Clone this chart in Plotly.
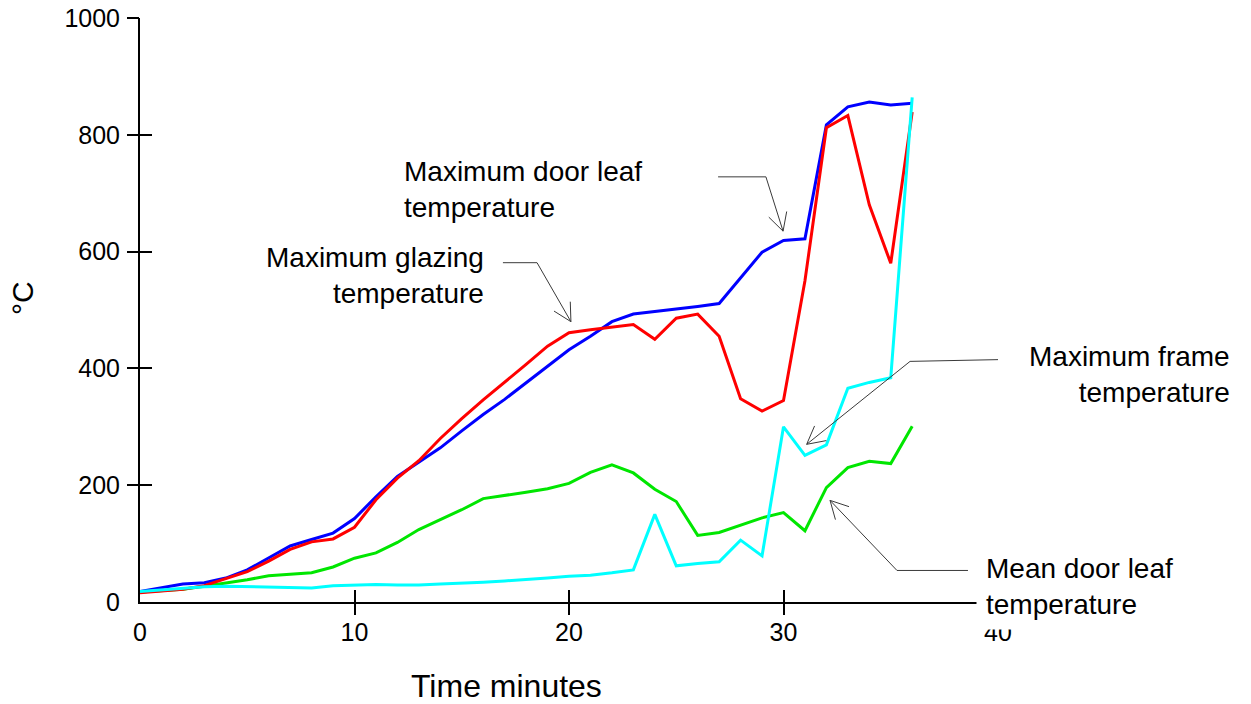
import numpy as np
import plotly.graph_objects as go

# Fire test of a glazed door: temperatures (°C) against time (minutes)
minutes = list(range(0, 37))

max_door_leaf = [18, 24, 31, 33, 41, 55, 75, 96, 107, 118, 143, 180, 215, 240, 264, 293,
                 321, 347, 375, 404, 432, 455, 480, 493, 497, 501, 506, 511, 556, 599,
                 619, 622, 817, 848, 856, 851, 854]

max_glazing = [16, 19, 22, 28, 40, 52, 70, 90, 103, 108, 128, 175, 212, 242, 280, 314,
               346, 376, 407, 438, 461, 466, 470, 475, 450, 486, 493, 455, 348, 327,
               345, 550, 812, 833, 680, 580, 839]

mean_door_leaf = [17, 20, 22, 27, 32, 38, 45, 48, 50, 60, 75, 84, 102, 124, 141, 158,
                  177, 182, 188, 194, 203, 222, 235, 221, 193, 172, 114, 119, 131, 144,
                  153, 122, 196, 230, 241, 237, 301]

max_frame = [18, 21, 24, 26, 27, 26, 25, 24, 24, 28, 29, 30, 29, 29, 31, 32,
             34, 36, 38, 41, 44, 46, 50, 55, 150, 62, 66, 69, 106, 79,
             300, 251, 269, 366, 376, 384, 864]

x_ticks = [0, 10, 20, 30, 40]
y_ticks = [0, 200, 400, 600, 800, 1000]

FONT = "Arial, Liberation Sans, sans-serif"
W, H = 1251, 704
M = dict(l=140, r=253, t=18, b=102)
PW = W - M["l"] - M["r"]
PH = H - M["t"] - M["b"]
X_RANGE = [0, 40]
Y_RANGE = [0, 1000]
SX = PW / (X_RANGE[1] - X_RANGE[0])
SY = PH / (Y_RANGE[1] - Y_RANGE[0])

fig = go.Figure()

series = [
    (max_door_leaf, "#0000FF", "Maximum door leaf temperature"),
    (mean_door_leaf, "#00E600", "Mean door leaf temperature"),
    (max_glazing, "#FF0000", "Maximum glazing temperature"),
    (max_frame, "#00FFFF", "Maximum frame temperature"),
]
for ys, col, name in series:
    fig.add_trace(go.Scatter(x=minutes, y=ys, mode="lines", name=name,
                             line=dict(color=col, width=3), showlegend=False))

# empty traces so the overlay tick axes are drawn
for xa, ya in [("x2", "y"), ("x3", "y"), ("x", "y2"), ("x", "y3")]:
    fig.add_trace(go.Scatter(x=[], y=[], xaxis=xa, yaxis=ya, showlegend=False,
                             hoverinfo="skip"))

axis_common = dict(showgrid=False, zeroline=False, automargin=False)
fig.update_layout(
    width=W, height=H, margin=M,
    paper_bgcolor="white", plot_bgcolor="white",
    font=dict(family=FONT, color="black"),
    xaxis=dict(range=X_RANGE, tickvals=x_ticks, ticks="outside", ticklen=7,
               tickcolor="rgba(0,0,0,0)", showline=True, linecolor="black",
               linewidth=2, tickfont=dict(size=25, family=FONT), **axis_common),
    yaxis=dict(range=Y_RANGE, tickvals=y_ticks, ticks="outside", ticklen=13,
               tickcolor="rgba(0,0,0,0)", showline=True, linecolor="black",
               linewidth=2, tickfont=dict(size=25, family=FONT), **axis_common),
    xaxis2=dict(range=X_RANGE, overlaying="x", anchor="y", tickvals=x_ticks[1:],
                ticks="outside", ticklen=12, tickwidth=2, tickcolor="black",
                showticklabels=False, showline=False, **axis_common),
    xaxis3=dict(range=X_RANGE, overlaying="x", anchor="y", tickvals=x_ticks[1:],
                ticks="inside", ticklen=12, tickwidth=2, tickcolor="black",
                showticklabels=False, showline=False, **axis_common),
    yaxis2=dict(range=Y_RANGE, overlaying="y", anchor="x", tickvals=y_ticks[1:],
                ticks="outside", ticklen=12, tickwidth=2, tickcolor="black",
                showticklabels=False, showline=False, **axis_common),
    yaxis3=dict(range=Y_RANGE, overlaying="y", anchor="x", tickvals=y_ticks[1:],
                ticks="inside", ticklen=12, tickwidth=2, tickcolor="black",
                showticklabels=False, showline=False, **axis_common),
)


def paper(px, py):
    """Page pixel position -> paper coordinates."""
    return (px - M["l"]) / PW, (H - M["b"] - py) / PH


# Callout leaders: tail, elbow, tip (data coordinates)
callouts = [
    [(26.95, 728), (29.18, 728), (29.98, 635)],
    [(16.92, 581), (18.51, 581), (20.09, 480)],
    [(40.0, 415), (35.9, 412), (31.08, 270)],
    [(38.6, 54), (35.29, 54), (32.17, 174)],
]


def barbs(tip, frm, length=20.0, half_angle=28.0):
    d = np.array([(frm[0] - tip[0]) * SX, (frm[1] - tip[1]) * SY])
    d = d / np.linalg.norm(d)
    out = []
    for s in (1, -1):
        a = np.radians(half_angle) * s
        r = np.array([d[0] * np.cos(a) - d[1] * np.sin(a),
                      d[0] * np.sin(a) + d[1] * np.cos(a)])
        out.append((tip[0] + length * r[0] / SX, tip[1] + length * r[1] / SY))
    return out


for tail, elbow, tip in callouts:
    b1, b2 = barbs(tip, elbow)
    path = (f"M {tail[0]},{tail[1]} L {elbow[0]},{elbow[1]} L {tip[0]},{tip[1]} "
            f"M {b1[0]},{b1[1]} L {tip[0]},{tip[1]} L {b2[0]},{b2[1]}")
    fig.add_shape(type="path", path=path, xref="x", yref="y",
                  line=dict(color="#3a3a3a", width=1))

# callout texts: (text, x px, y px, anchor, padding)
labels = [
    ("Maximum door leaf<br>temperature", 398, 189, "left", 5),
    ("Maximum glazing<br>temperature", 490, 275, "right", 5),
    ("Maximum frame<br>temperature", 1236, 374, "right", 5),
    ("Mean door leaf<br>temperature", 976, 586, "left", 9),
]
for text, px, py, anchor, pad in labels:
    xp, yp = paper(px, py)
    fig.add_annotation(text=text, x=xp, y=yp, xref="paper", yref="paper",
                       xanchor=anchor, yanchor="middle", align=anchor,
                       showarrow=False, bgcolor="white", borderpad=pad,
                       font=dict(size=28, family=FONT, color="black"))

# axis titles
xp, yp = paper(506, 686)
fig.add_annotation(text="Time minutes", x=xp, y=yp, xref="paper", yref="paper",
                   xanchor="center", yanchor="middle",
                   showarrow=False, font=dict(size=32, family=FONT, color="black"))
xp, yp = paper(22, 298)
fig.add_annotation(text="°C", x=xp, y=yp, xref="paper", yref="paper", textangle=-90,
                   xanchor="center", yanchor="middle",
                   showarrow=False, font=dict(size=30, family=FONT, color="black"))

fig.write_html("out.html")
